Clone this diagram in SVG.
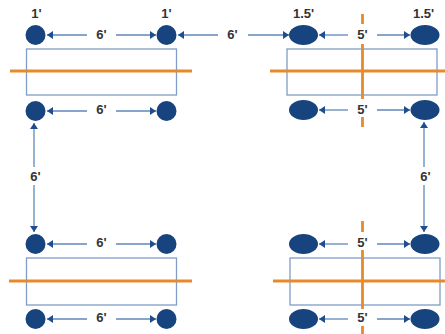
<svg xmlns="http://www.w3.org/2000/svg" width="445" height="334" viewBox="0 0 445 334">
<style>
.c{fill:#17437f}
.r{fill:none;stroke:#7f9dc6;stroke-width:1.3}
.o{fill:none;stroke:#e8892b;stroke-width:2.8}
.a{fill:none;stroke:#5f87b8;stroke-width:1.3;marker-end:url(#h)}
text{font-family:"Liberation Sans",Arial,sans-serif;font-size:13px;font-weight:bold;fill:#333;text-anchor:middle}
</style>
<defs>
<marker id="h" markerUnits="userSpaceOnUse" markerWidth="7" markerHeight="8" refX="6" refY="4" orient="auto">
<path d="M0 0L6 4L0 8Z" fill="#1f4e8c"/>
</marker>
</defs>
<rect width="445" height="334" fill="#fff"/>
<g id="beams">
<rect class="r" x="26.5" y="49" width="150" height="46"/>
<rect class="r" x="287" y="49" width="150" height="46"/>
<rect class="r" x="26.5" y="258" width="150" height="47"/>
<rect class="r" x="290" y="258" width="150" height="47"/>
<path class="o" d="M10 71H192M270 71H445M9 281H192M273 281H445"/>
<path class="o" d="M362.500 14V24M362.500 44V99M362.500 117V127M362.500 221V232M362.500 250V309M362.500 326V334"/>
</g>
<g id="connectors">
<path class="a" d="M87 35H47"/>
<path class="a" d="M116 35H156"/>
<path class="a" d="M218 35H178"/>
<path class="a" d="M248 35H289"/>
<path class="a" d="M348 35H319"/>
<path class="a" d="M377 35H410"/>
<path class="a" d="M87 111H47"/>
<path class="a" d="M116 111H156"/>
<path class="a" d="M348 110H319"/>
<path class="a" d="M377 110H410"/>
<path class="a" d="M34 167V123"/>
<path class="a" d="M34 185V232"/>
<path class="a" d="M424 167V122"/>
<path class="a" d="M424 185V232"/>
<path class="a" d="M87 244H47"/>
<path class="a" d="M116 244H156"/>
<path class="a" d="M348 244H319"/>
<path class="a" d="M377 244H410"/>
<path class="a" d="M87 319H47"/>
<path class="a" d="M116 319H156"/>
<path class="a" d="M348 319H319"/>
<path class="a" d="M377 319H410"/>
</g>
<g id="n1"><circle class="c" cx="35.500" cy="35" r="10"/></g>
<g id="n2"><circle class="c" cx="166.500" cy="35" r="10"/></g>
<g id="n3"><circle class="c" cx="35.500" cy="111" r="10"/></g>
<g id="n4"><circle class="c" cx="166.500" cy="111" r="10"/></g>
<g id="n5"><ellipse class="c" cx="303.500" cy="35" rx="14.500" ry="10"/></g>
<g id="n6"><ellipse class="c" cx="425" cy="35" rx="14.500" ry="10"/></g>
<g id="n7"><ellipse class="c" cx="303.500" cy="110" rx="14.500" ry="10"/></g>
<g id="n8"><ellipse class="c" cx="425" cy="110" rx="14.500" ry="10"/></g>
<g id="n9"><circle class="c" cx="35.500" cy="244" r="10"/></g>
<g id="n10"><circle class="c" cx="166.500" cy="244" r="10"/></g>
<g id="n11"><circle class="c" cx="35.500" cy="319" r="10"/></g>
<g id="n12"><circle class="c" cx="166.500" cy="319" r="10"/></g>
<g id="n13"><ellipse class="c" cx="303.500" cy="244" rx="14.500" ry="10"/></g>
<g id="n14"><ellipse class="c" cx="425" cy="244" rx="14.500" ry="10"/></g>
<g id="n15"><ellipse class="c" cx="303.500" cy="319" rx="14.500" ry="10"/></g>
<g id="n16"><ellipse class="c" cx="425" cy="319" rx="14.500" ry="10"/></g>
<g id="labels">
<text x="36.500" y="18">1'</text>
<text x="166.500" y="18">1'</text>
<text x="303.500" y="18">1.5'</text>
<text x="423.500" y="18">1.5'</text>
<text x="101.500" y="39">6'</text>
<text x="232.500" y="39">6'</text>
<text x="362.500" y="39">5'</text>
<text x="101.500" y="114">6'</text>
<text x="362.500" y="114">5'</text>
<text x="35.500" y="181">6'</text>
<text x="425.500" y="181">6'</text>
<text x="101.500" y="247">6'</text>
<text x="362.500" y="247">5'</text>
<text x="101.500" y="322">6'</text>
<text x="362.500" y="322">5'</text>
</g>
</svg>
